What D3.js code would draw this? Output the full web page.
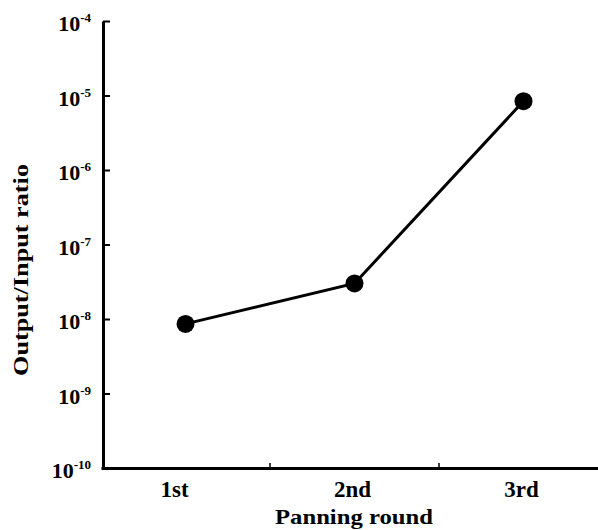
<!DOCTYPE html>
<html>
<head>
<meta charset="utf-8">
<script src="https://cdn.jsdelivr.net/npm/d3@7"></script>
<style>
  body { margin: 0; background: #fff; }
  text { font-family: "Liberation Serif", "Times New Roman", serif; font-weight: bold; fill: #000; }
</style>
</head>
<body>
<svg width="598" height="530"></svg>
<script>
var rounds = ["1st", "2nd", "3rd"];
var ratios = [8.6e-9, 3.0e-8, 8.4e-6];
var yTickExps = [-10, -9, -8, -7, -6, -5, -4];

var svg = d3.select("svg");

var y = d3.scaleLog().domain([1e-10, 1e-4]).range([468, 21]);
var x = d3.scaleBand().domain(rounds).range([101, 608]);

// y axis, ticks pointing inward
var yAxis = svg.append("g")
    .attr("transform", "translate(103,0)")
    .call(d3.axisLeft(y)
        .tickValues(yTickExps.map(function(e) { return Math.pow(10, e); }))
        .tickSize(-7)
        .tickSizeOuter(0)
        .tickFormat(""));
yAxis.select(".domain").attr("stroke-width", 3);
yAxis.selectAll(".tick line").attr("stroke-width", 2);

var yLabels = svg.append("g").selectAll("text")
    .data(yTickExps)
    .enter().append("text")
    .attr("x", 91)
    .attr("y", function(d) { return y(Math.pow(10, d)) + 10; })
    .attr("text-anchor", "end")
    .style("font-size", "22px");
yLabels.append("tspan").text("10");
yLabels.append("tspan")
    .attr("dy", -9)
    .style("font-size", "13px")
    .text(function(d) { return d; });

// x axis
var xAxis = svg.append("g")
    .attr("transform", "translate(0,468)")
    .call(d3.axisBottom(x).tickSize(0).tickSizeOuter(0));
xAxis.select(".domain").attr("stroke-width", 3);
xAxis.selectAll(".tick text")
    .attr("dy", 0)
    .attr("y", 29)
    .attr("dx", function(d, i) { return i == 0 ? -11 : -2; })
    .style("font-size", "23px")
    .style("font-family", "Liberation Serif, serif");

// small ticks between the categories
xAxis.selectAll(".sep")
    .data(rounds.slice(1))
    .enter().append("line")
    .attr("class", "sep")
    .attr("x1", function(d) { return x(d); })
    .attr("x2", function(d) { return x(d); })
    .attr("y1", 0)
    .attr("y2", -5)
    .attr("stroke", "#000")
    .attr("stroke-width", 1.5);

// line + points
var pts = rounds.map(function(r, i) { return { r: r, v: ratios[i] }; });

svg.append("path")
    .datum(pts)
    .attr("fill", "none")
    .attr("stroke", "#000")
    .attr("stroke-width", 3)
    .attr("d", d3.line()
        .x(function(d) { return x(d.r) + x.bandwidth() / 2; })
        .y(function(d) { return y(d.v); }));

svg.selectAll(".dot")
    .data(pts)
    .enter().append("circle")
    .attr("class", "dot")
    .attr("cx", function(d) { return x(d.r) + x.bandwidth() / 2; })
    .attr("cy", function(d) { return y(d.v); })
    .attr("r", 9)
    .attr("fill", "#000");

// titles
svg.append("text")
    .attr("transform", "translate(28,270) rotate(-90)")
    .attr("text-anchor", "middle")
    .attr("textLength", 212)
    .attr("lengthAdjust", "spacingAndGlyphs")
    .style("font-size", "22px")
    .text("Output/Input ratio");

svg.append("text")
    .attr("x", 354)
    .attr("y", 524)
    .attr("text-anchor", "middle")
    .attr("textLength", 158)
    .attr("lengthAdjust", "spacingAndGlyphs")
    .style("font-size", "21px")
    .text("Panning round");
</script>
</body>
</html>
